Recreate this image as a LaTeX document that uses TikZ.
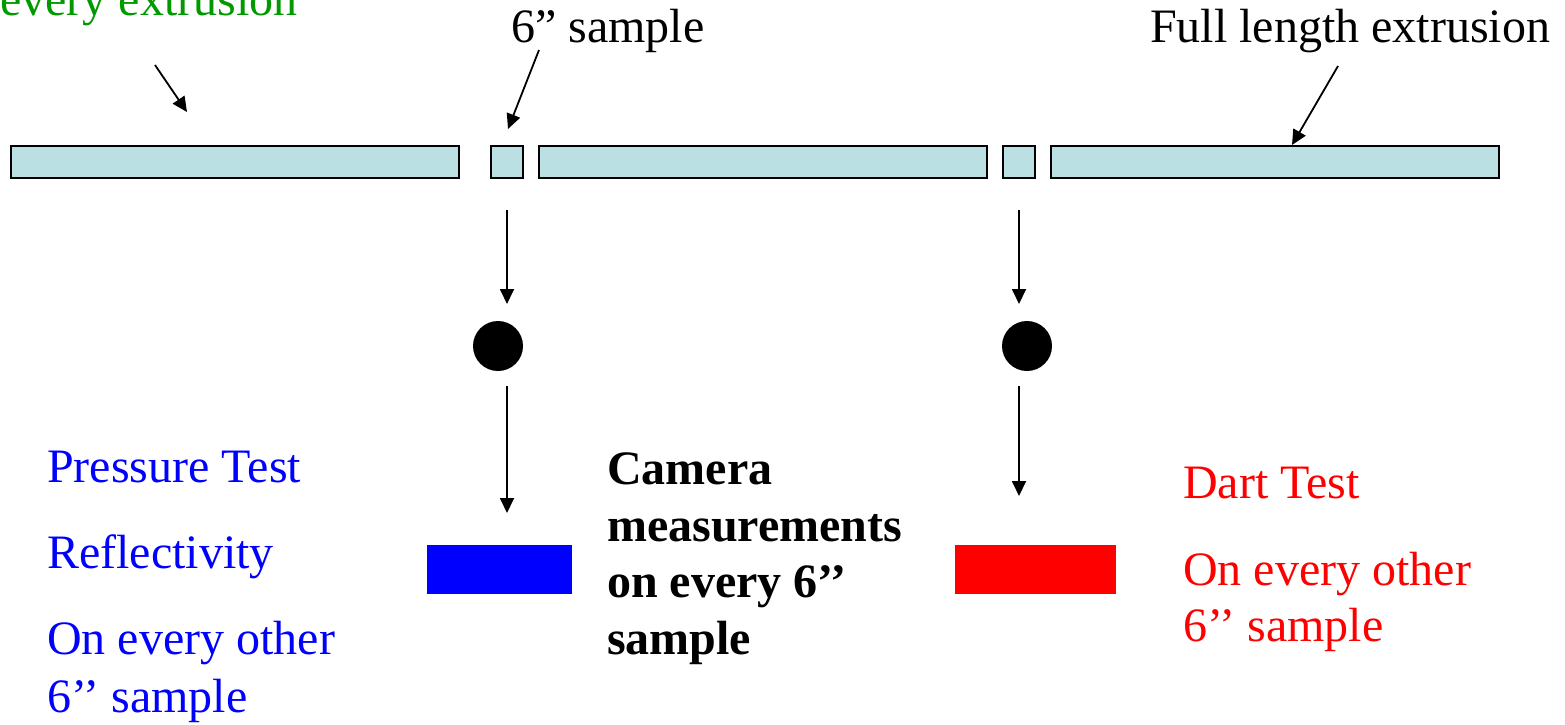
\documentclass[tikz,border=0pt]{standalone}
\usepackage{fontspec}
\setmainfont{Liberation Serif}
\usetikzlibrary{arrows.meta}
\definecolor{barfill}{RGB}{187,224,227}
\definecolor{labgreen}{RGB}{0,153,0}
\definecolor{labblue}{RGB}{0,0,255}
\definecolor{labred}{RGB}{255,0,0}
\begin{document}
\begin{tikzpicture}[x=1pt,y=-1pt,
  bar/.style={draw=black, line width=2pt, fill=barfill, minimum height=32pt, inner sep=0pt},
  arr/.style={line width=1.8pt, -{Triangle[length=15pt,width=14pt]}},
  dotmark/.style={circle, fill=black, minimum size=50pt, inner sep=0pt},
  block/.style={minimum width=#1, minimum height=49pt, inner sep=0pt},
  txt/.style={anchor=base west, inner sep=0pt, font=\fontsize{48}{58}\selectfont},
  bold/.style={anchor=base west, inner sep=0pt, font=\fontsize{48}{58}\selectfont\bfseries}]
\useasboundingbox (0,0) rectangle (1565,724);

% extrusion cut into full lengths and 6'' samples
\node[bar, minimum width=448pt] (b1) at (235,162) {};
\node[bar, minimum width=32pt]  (b2) at (507,162) {};
\node[bar, minimum width=448pt] (b3) at (763,162) {};
\node[bar, minimum width=32pt]  (b4) at (1019,162) {};
\node[bar, minimum width=448pt] (b5) at (1275,162) {};

% labels on top
\node[txt, text=labgreen] (lgreen) at (0,15) {every extrusion};
\node[txt] (lsample) at (511,42) {6” sample};
\node[txt] (lfull) at (1150,42) {Full length extrusion};

\coordinate (p1s) at (155,65);  \coordinate (p1e) at (187,112);
\coordinate (p2s) at (539,50);  \coordinate (p2e) at (508,129);
\coordinate (p3s) at (1338,66); \coordinate (p3e) at (1292,145);
\draw[arr] (p1s) -- (p1e);
\draw[arr] (p2s) -- (p2e);
\draw[arr] (p3s) -- (p3e);

% samples routed to the tests
\node[dotmark] (d1) at (498,346) {};
\node[dotmark] (d2) at (1027,346) {};
\node[block=145pt, fill=labblue] (rb) at (499,569.5) {};
\node[block=161pt, fill=labred]  (rr) at (1035,569.5) {};

\coordinate (v1a) at (507,210); \coordinate (v1b) at (507,304);
\coordinate (v1c) at (507,386); \coordinate (v1d) at (507,513);
\coordinate (v2a) at (1019,210); \coordinate (v2b) at (1019,304);
\coordinate (v2c) at (1019,386); \coordinate (v2d) at (1019,496);
\draw[arr] (v1a) -- (v1b);
\draw[arr] (v1c) -- (v1d);
\draw[arr] (v2a) -- (v2b);
\draw[arr] (v2c) -- (v2d);

% test descriptions
\node[txt, text=labblue] (t1) at (47,482) {Pressure Test};
\node[txt, text=labblue] (t2) at (47,568) {Reflectivity};
\node[txt, text=labblue] (t3) at (47,654) {On every other};
\node[txt, text=labblue] (t4) at (47,712) {6’’ sample};

\node[bold] (c1) at (607,484) {Camera};
\node[bold] (c2) at (607,541) {measurements};
\node[bold] (c3) at (607,597) {on every 6’’};
\node[bold] (c4) at (607,654) {sample};

\node[txt, text=labred] (r1) at (1183,498) {Dart Test};
\node[txt, text=labred] (r2) at (1183,585) {On every other};
\node[txt, text=labred] (r3) at (1183,641) {6’’ sample};
\end{tikzpicture}
\end{document}
